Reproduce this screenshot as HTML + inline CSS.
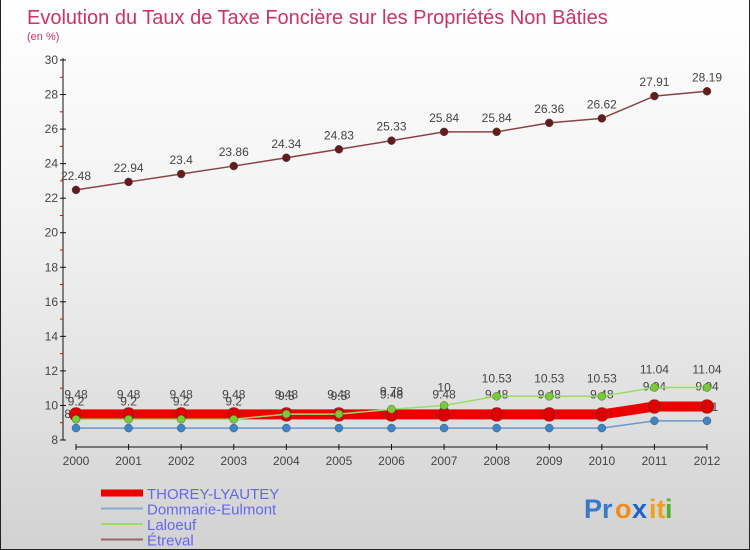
<!DOCTYPE html>
<html><head><meta charset="utf-8"><style>
body{margin:0;}
#c{width:750px;height:550px;position:relative;background:linear-gradient(#ffffff 0%,#f2f2f2 40%,#d2d2d2 100%);box-sizing:border-box;border:1px solid #222;border-top:none;overflow:hidden;font-family:"Liberation Sans",sans-serif;}
svg text{font-family:"Liberation Sans",sans-serif;}
</style></head><body>
<div id="c">
<svg id="s" width="750" height="550">
<text x="26" y="24" font-size="20" fill="#cc3366">Evolution du Taux de Taxe Foncière sur les Propriétés Non Bâties</text>
<text x="26" y="40" font-size="11" fill="#cc3366">(en %)</text>
<g id="axes"></g><g id="series"></g><g id="legend"></g>
<g font-size="27" font-weight="bold">
<text x="583" y="518" fill="#3a78c8">Pr</text><text x="614" y="518" fill="#f08c1e">o</text><text x="631" y="518" fill="#1e64c8">x</text><text x="648" y="518" fill="#f0a020">it</text><text x="664" y="518" fill="#50b030">i</text>
</g>
</svg>
</div>
<script>
const years=[2000,2001,2002,2003,2004,2005,2006,2007,2008,2009,2010,2011,2012];
const yTicks=[8,10,12,14,16,18,20,22,24,26,28,30];
const thorey=[9.48,9.48,9.48,9.48,9.48,9.48,9.48,9.48,9.48,9.48,9.48,9.94,9.94];
const dommarie=[8.69,8.69,8.69,8.69,8.69,8.69,8.69,8.69,8.69,8.69,8.69,9.11,9.11];
const laloeuf=[9.2,9.2,9.2,9.2,9.5,9.5,9.78,10,10.53,10.53,10.53,11.04,11.04];
const etreval=[22.48,22.94,23.4,23.86,24.34,24.83,25.33,25.84,25.84,26.36,26.62,27.91,28.19];
const names=["THOREY-LYAUTEY","Dommarie-Eulmont","Laloeuf","Étreval"];
const NS="http://www.w3.org/2000/svg";
const X=i=>75+i*(706-75)/(years.length-1);
const Y=v=>440-(v-8)*(380/22);
function mk(tag,at,parent){const e=document.createElementNS(NS,tag);for(const k in at)e.setAttribute(k,at[k]);parent.appendChild(e);return e;}
const ax=document.getElementById('axes'),sg=document.getElementById('series'),lg=document.getElementById('legend');
let a=mk('line',{x1:62,y1:58,x2:62,y2:440,stroke:'#111'},ax);

a=mk('line',{x1:75,y1:447,x2:706,y2:447,stroke:'#111'},ax);

yTicks.forEach(v=>{
 mk('line',{x1:59,x2:65,y1:Y(v),y2:Y(v),stroke:'#111'},ax);
 if(v<30)mk('line',{x1:59,x2:62,y1:Y(v+1),y2:Y(v+1),stroke:'#e00'},ax);
 const t=mk('text',{x:57,y:Y(v)+4,'text-anchor':'end','font-size':12,fill:'#444'},ax);t.textContent=v;
 
});
years.forEach((yr,i)=>{
 mk('line',{x1:X(i),x2:X(i),y1:444,y2:450,stroke:'#111'},ax);
 const t=mk('text',{x:X(i),y:465,'text-anchor':'middle','font-size':12,fill:'#444'},ax);t.textContent=yr;
 
});
function series(data,col,w,r,fill,nm,lab){
 const g=mk('g',{},sg);
 mk('polyline',{points:data.map((v,i)=>X(i)+','+Y(v)).join(' '),fill:'none',stroke:col,'stroke-width':w},g);
 data.forEach((v,i)=>{const c=mk('circle',{cx:X(i),cy:Y(v),r:r,fill:fill,stroke:'#555','stroke-width':0.5},g);
  
  const t=mk('text',{x:X(i),y:Y(v)-lab,'text-anchor':'middle','font-size':12,fill:'#444'},g);t.textContent=v;
  });
}
series(dommarie,'#6699cc',1.5,4,'#3a86c8','series-dommarie',10);
series(thorey,'#ee0000',10,7,'#dd0000','series-thorey',16);
series(laloeuf,'#99dd66',1.5,4,'#77cc33','series-laloeuf',14);
series(etreval,'#884444',1.5,4,'#661a1a','series-etreval',10);
const lc=[['#ee0000',7],['#88aacc',2],['#99dd66',2],['#996666',2]];
names.forEach((n,i)=>{
 const y=493+i*15.5;
 const l=mk('line',{x1:100,x2:142,y1:y,y2:y,stroke:lc[i][0],'stroke-width':lc[i][1]},lg);
 
 const t=mk('text',{x:146,y:y+6,'font-size':15,fill:'#6666ee'},lg);t.textContent=n;
 
});
</script>
</body></html>
